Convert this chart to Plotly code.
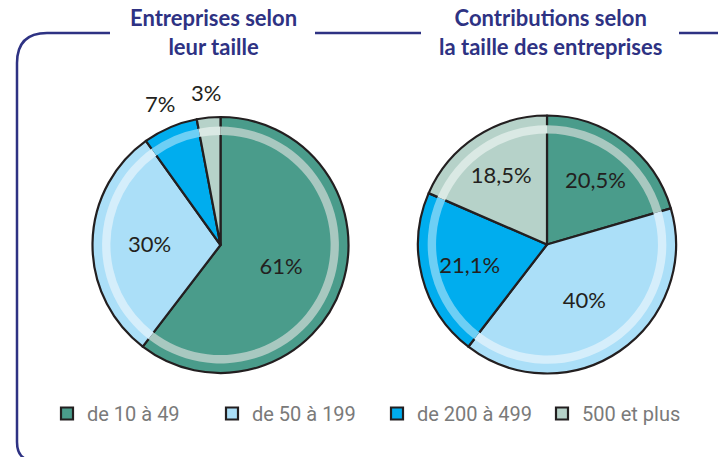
import math
import plotly.graph_objects as go

W, H = 718, 457

categories = ["de 10 à 49", "de 50 à 199", "de 200 à 499", "500 et plus"]
entreprises = [61, 30, 7, 3]
entreprises_txt = ["61%", "30%", "7%", "3%"]
contributions = [20.5, 40, 21.1, 18.5]
contributions_txt = ["20,5%", "40%", "21,1%", "18,5%"]
titles = ["Entreprises selon<br>leur taille", "Contributions selon<br>la taille des entreprises"]

colors = ["#4a9c8b", "#abdff8", "#00adee", "#b6d2c9"]
ring_colors = ["#a8c8c0", "#d5eefb", "#6dcff5", "#dae9e4"]
navy = "#2e3283"
label_font = dict(family="Lato, Open Sans, sans-serif", size=22, color="#231f20")


def px_dom(x0, x1, y0, y1):
    return dict(x=[x0 / W, x1 / W], y=[1 - y1 / H, 1 - y0 / H])


def shrink(cx, cy, r, f):
    return px_dom(cx - r * f, cx + r * f, cy - r * f, cy + r * f)


pies = [
    (entreprises, entreprises_txt, (220.5, 245, 128)),
    (contributions, contributions_txt, (547, 244.5, 129)),
]

fig = go.Figure()
annotations = []
for i, (vals, txt, (cx, cy, r)) in enumerate(pies):
    total = sum(vals)
    small = [v / total < 0.1 for v in vals]
    inner_txt = ["" if s else t for s, t in zip(small, txt)]
    fig.add_trace(go.Pie(
        labels=categories, values=vals, text=inner_txt, textinfo="text",
        textposition="inside", insidetextorientation="horizontal",
        sort=False, direction="clockwise", rotation=0,
        marker=dict(colors=colors, line=dict(color="#231f20", width=2.2)),
        textfont=label_font,
        domain=shrink(cx, cy, r, 1.0), showlegend=(i == 0),
        hoverinfo="label+text", hovertext=txt,
    ))
    fig.add_trace(go.Pie(
        labels=categories, values=vals, textinfo="none",
        sort=False, direction="clockwise", rotation=0, hole=0.86 / 0.925,
        marker=dict(colors=ring_colors, line=dict(width=0)),
        domain=shrink(cx, cy, r, 0.925), showlegend=False, hoverinfo="skip",
    ))
    # labels of thin slices sit just outside the pie, on the slice's mid angle
    cum = 0.0
    for v, t, s in zip(vals, txt, small):
        mid = (cum + v / 2) / total * 2 * math.pi
        cum += v
        if s:
            rr = r * 1.2
            annotations.append(dict(
                text=t, xref="paper", yref="paper", showarrow=False,
                x=(cx + rr * math.sin(mid)) / W, y=1 - (cy - rr * math.cos(mid)) / H,
                xanchor="center", yanchor="middle", font=label_font,
            ))


def P(x, y):
    return f"{x / W:.5f},{1 - y / H:.5f}"


frame_path = (f"M{P(110, 33)} L{P(47, 33)} Q{P(17, 33)} {P(17, 63)} "
              f"L{P(17, 442)} Q{P(17, 454)} {P(24, 458)}")
shapes = [
    dict(type="path", xref="paper", yref="paper", path=frame_path,
         line=dict(color=navy, width=2.5)),
    dict(type="line", xref="paper", yref="paper", x0=315 / W, x1=421 / W,
         y0=1 - 33 / H, y1=1 - 33 / H, line=dict(color=navy, width=2.5)),
    dict(type="line", xref="paper", yref="paper", x0=679 / W, x1=1,
         y0=1 - 33 / H, y1=1 - 33 / H, line=dict(color=navy, width=2.5)),
]

for t, xc in zip(titles, [213, 550]):
    annotations.append(dict(
        text=t, x=xc / W, y=1 - 32 / H, xref="paper", yref="paper",
        xanchor="center", yanchor="middle", showarrow=False,
        font=dict(family="Lato, Open Sans, sans-serif", size=22, color=navy, weight="bold"),
    ))

fig.update_layout(
    width=W, height=H, margin=dict(l=0, r=0, t=0, b=0),
    paper_bgcolor="white", plot_bgcolor="white",
    shapes=shapes, annotations=annotations,
    legend=dict(orientation="h", x=47 / W, xanchor="left", y=1 - 394 / H, yanchor="top",
                entrywidth=120, entrywidthmode="pixels",
                font=dict(family="Roboto, DejaVu Sans, sans-serif", size=20, color="#7a7a7a"),
                bgcolor="rgba(0,0,0,0)"),
)

fig.write_html("out.html", config={"displayModeBar": False},
               post_script="document.body.style.margin='0';")
